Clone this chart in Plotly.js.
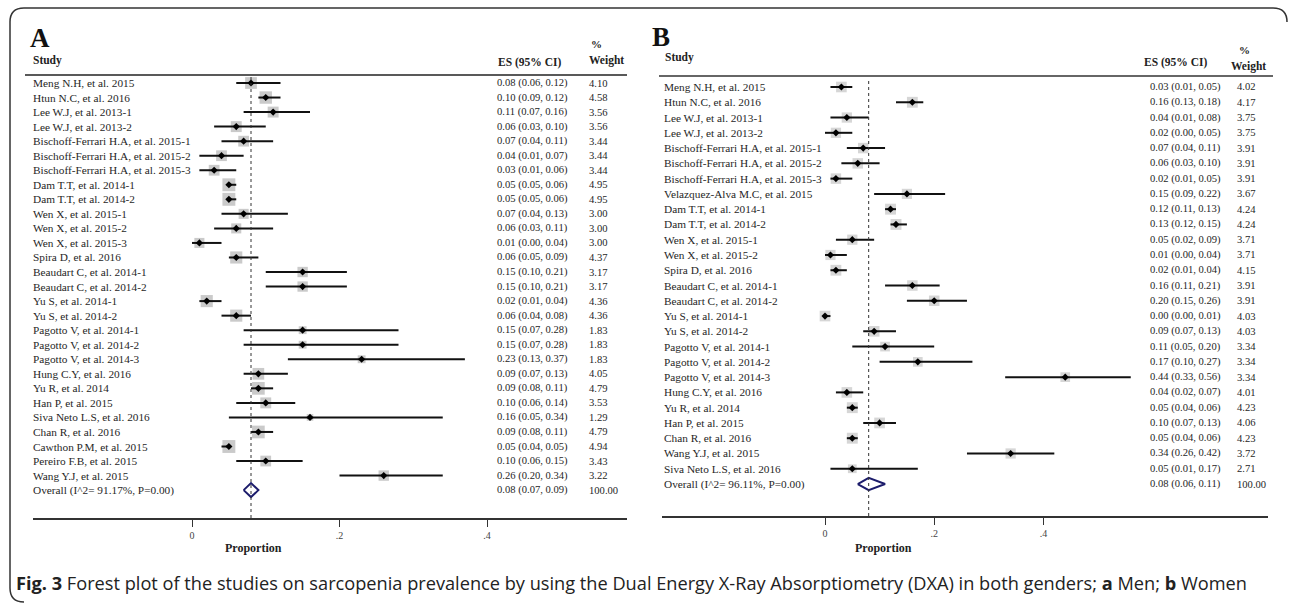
<!DOCTYPE html>
<html>
<head>
<meta charset="utf-8">
<script src="https://cdn.plot.ly/plotly-3.0.1.min.js"></script>
<style>html,body{margin:0;padding:0;background:#fff;}#chart{width:1292px;height:605px;}</style>
</head>
<body>
<div id="chart"></div>
<script>
// ---------- Panel A (Men) ----------
const studiesA = [
  "Meng N.H, et al. 2015", "Htun N.C, et al. 2016", "Lee W.J, et al. 2013-1", "Lee W.J, et al. 2013-2",
  "Bischoff-Ferrari H.A, et al. 2015-1", "Bischoff-Ferrari H.A, et al. 2015-2", "Bischoff-Ferrari H.A, et al. 2015-3",
  "Dam T.T, et al. 2014-1", "Dam T.T, et al. 2014-2", "Wen X, et al. 2015-1", "Wen X, et al. 2015-2",
  "Wen X, et al. 2015-3", "Spira D, et al. 2016", "Beaudart C, et al. 2014-1", "Beaudart C, et al. 2014-2",
  "Yu S, et al. 2014-1", "Yu S, et al. 2014-2", "Pagotto V, et al. 2014-1", "Pagotto V, et al. 2014-2",
  "Pagotto V, et al. 2014-3", "Hung C.Y, et al. 2016", "Yu R, et al. 2014", "Han P, et al. 2015",
  "Siva Neto L.S, et al. 2016", "Chan R, et al. 2016", "Cawthon P.M, et al. 2015", "Pereiro F.B, et al. 2015",
  "Wang Y.J, et al. 2015"
];
const esA = [0.08,0.10,0.11,0.06,0.07,0.04,0.03,0.05,0.05,0.07,0.06,0.01,0.06,0.15,0.15,0.02,0.06,0.15,0.15,0.23,0.09,0.09,0.10,0.16,0.09,0.05,0.10,0.26];
const loA = [0.06,0.09,0.07,0.03,0.04,0.01,0.01,0.05,0.05,0.04,0.03,0.00,0.05,0.10,0.10,0.01,0.04,0.07,0.07,0.13,0.07,0.08,0.06,0.05,0.08,0.04,0.06,0.20];
const hiA = [0.12,0.12,0.16,0.10,0.11,0.07,0.06,0.06,0.06,0.13,0.11,0.04,0.09,0.21,0.21,0.04,0.08,0.28,0.28,0.37,0.13,0.11,0.14,0.34,0.11,0.05,0.15,0.34];
const wA  = [4.10,4.58,3.56,3.56,3.44,3.44,3.44,4.95,4.95,3.00,3.00,3.00,4.37,3.17,3.17,4.36,4.36,1.83,1.83,1.83,4.05,4.79,3.53,1.29,4.79,4.94,3.43,3.22];
const overallLabelA = "Overall (I^2= 91.17%, P=0.00)";
const overallA = [0.08, 0.07, 0.09]; // es, lo, hi
const overallWA = 100.00;

// ---------- Panel B (Women) ----------
const studiesB = [
  "Meng N.H, et al. 2015", "Htun N.C, et al. 2016", "Lee W.J, et al. 2013-1", "Lee W.J, et al. 2013-2",
  "Bischoff-Ferrari H.A, et al. 2015-1", "Bischoff-Ferrari H.A, et al. 2015-2", "Bischoff-Ferrari H.A, et al. 2015-3",
  "Velazquez-Alva M.C, et al. 2015", "Dam T.T, et al. 2014-1", "Dam T.T, et al. 2014-2", "Wen X, et al. 2015-1",
  "Wen X, et al. 2015-2", "Spira D, et al. 2016", "Beaudart C, et al. 2014-1", "Beaudart C, et al. 2014-2",
  "Yu S, et al. 2014-1", "Yu S, et al. 2014-2", "Pagotto V, et al. 2014-1", "Pagotto V, et al. 2014-2",
  "Pagotto V, et al. 2014-3", "Hung C.Y, et al. 2016", "Yu R, et al. 2014", "Han P, et al. 2015",
  "Chan R, et al. 2016", "Wang Y.J, et al. 2015", "Siva Neto L.S, et al. 2016"
];
const esB = [0.03,0.16,0.04,0.02,0.07,0.06,0.02,0.15,0.12,0.13,0.05,0.01,0.02,0.16,0.20,0.00,0.09,0.11,0.17,0.44,0.04,0.05,0.10,0.05,0.34,0.05];
const loB = [0.01,0.13,0.01,0.00,0.04,0.03,0.01,0.09,0.11,0.12,0.02,0.00,0.01,0.11,0.15,0.00,0.07,0.05,0.10,0.33,0.02,0.04,0.07,0.04,0.26,0.01];
const hiB = [0.05,0.18,0.08,0.05,0.11,0.10,0.05,0.22,0.13,0.15,0.09,0.04,0.04,0.21,0.26,0.01,0.13,0.20,0.27,0.56,0.07,0.06,0.13,0.06,0.42,0.17];
const wB  = [4.02,4.17,3.75,3.75,3.91,3.91,3.91,3.67,4.24,4.24,3.71,3.71,4.15,3.91,3.91,4.03,4.03,3.34,3.34,3.34,4.01,4.23,4.06,4.23,3.72,2.71];
const overallLabelB = "Overall (I^2= 96.11%, P=0.00)";
const overallB = [0.08, 0.06, 0.11];
const overallWB = 100.00;

const tickVals = [0, 0.2, 0.4];
const tickText = ["0", ".2", ".4"];

// ---------- helpers ----------
const W = 1292, H = 605;
const PX = p => p / W;
const PY = p => 1 - p / H;
const serif = "Liberation Serif, Times New Roman, serif";
const txtCol = "#262626";

function rowsY(n) { const r = []; for (let i = 0; i < n; i++) r.push(-i); return r; }
function ci(e, l, h) { return e.toFixed(2) + " (" + l.toFixed(2) + ", " + h.toFixed(2) + ")"; }

function panel(studies, es, lo, hi, w, oLabel, o, oW, xa, ya, sqScale, sqColor, diaHalf, cols) {
  const y = rowsY(studies.length);
  const traces = [];
  traces.push({
    type: "scatter", mode: "markers", x: es, y: y, xaxis: xa, yaxis: ya, hoverinfo: "skip",
    marker: { symbol: "square", color: sqColor, size: w.map(v => sqScale * Math.sqrt(v)), line: { width: 0 } }
  });
  traces.push({
    type: "scatter", mode: "markers", x: es, y: y, xaxis: xa, yaxis: ya, hoverinfo: "skip",
    marker: { symbol: "diamond", color: "#000", size: 5.5 },
    error_x: { type: "data", symmetric: false, array: es.map((v, i) => hi[i] - v),
               arrayminus: es.map((v, i) => v - lo[i]), width: 0, thickness: 2, color: "#111" }
  });
  const oy = -studies.length;
  traces.push({
    type: "scatter", mode: "lines", xaxis: xa, yaxis: ya, hoverinfo: "skip",
    x: [o[1], o[0], o[2], o[0], o[1]], y: [oy, oy + diaHalf, oy, oy - diaHalf, oy],
    line: { color: "#1c1c6b", width: 2 }
  });
  const ann = [];
  const yref = ya;
  const allNames = studies.concat([oLabel]);
  const allCI = es.map((v, i) => ci(v, lo[i], hi[i])).concat([ci(o[0], o[1], o[2])]);
  const allW = w.map(v => v.toFixed(2)).concat([oW.toFixed(2)]);
  allNames.forEach((s, i) => {
    ann.push({ text: s, xref: "paper", yref: yref, x: PX(cols[0]), y: -i, xanchor: "left", yanchor: "middle",
               showarrow: false, font: { family: serif, size: 11.3, color: txtCol } });
    ann.push({ text: allCI[i], xref: "paper", yref: yref, x: PX(cols[1]), y: -i, xanchor: "left", yanchor: "middle",
               showarrow: false, font: { family: serif, size: 10.6, color: txtCol } });
    ann.push({ text: allW[i], xref: "paper", yref: yref, x: PX(cols[2]), y: -i, xanchor: "left", yanchor: "middle",
               showarrow: false, font: { family: serif, size: 10.6, color: txtCol } });
  });
  return { traces, ann };
}

const A = panel(studiesA, esA, loA, hiA, wA, overallLabelA, overallA, overallWA, "x", "y", 5.8, "#b3b3b3", 0.48, [31, 495, 587]);
const B = panel(studiesB, esB, loB, hiB, wB, overallLabelB, overallB, overallWB, "x2", "y2", 5.3, "#c4c4c4", 0.4, [662, 1148, 1235]);

// axis geometry
const axCommon = {
  tickvals: tickVals, ticktext: tickText, ticks: "outside", ticklen: 7, tickwidth: 1, tickcolor: "#333",
  showline: true, linecolor: "#333", linewidth: 1.5, showgrid: false, zeroline: false, fixedrange: true,
  tickfont: { family: serif, size: 10, color: "#444" }
};
const yCommon = { visible: false, showgrid: false, zeroline: false, fixedrange: true };

// Panel A: x=0 at px 192, 737.5 px/unit; rows at 83 + 14.54*i
const aX0 = 192, aK = 737.5, aR0 = 83, aDy = 14.54;
const aL = 33, aR = 627, aTop = 75, aBot = 518;
// Panel B: x=0 at px 825, 546 px/unit; rows at 87 + 15.27*i
const bX0 = 825, bK = 546, bR0 = 87, bDy = 15.27;
const bL = 662, bR = 1268, bTop = 76, bBot = 516;

const layout = {
  width: W, height: H, margin: { l: 0, r: 0, t: 0, b: 0 }, showlegend: false,
  paper_bgcolor: "#fff", plot_bgcolor: "rgba(0,0,0,0)",
  xaxis: Object.assign({}, axCommon, { anchor: "y", domain: [PX(aL), PX(aR)], range: [(aL - aX0) / aK, (aR - aX0) / aK] }),
  yaxis: Object.assign({}, yCommon, { anchor: "x", domain: [PY(aBot), PY(aTop)], range: [-(aBot - aR0) / aDy, -(aTop - aR0) / aDy] }),
  xaxis2: Object.assign({}, axCommon, { anchor: "y2", domain: [PX(bL), PX(bR)], range: [(bL - bX0) / bK, (bR - bX0) / bK] }),
  yaxis2: Object.assign({}, yCommon, { anchor: "x2", domain: [PY(bBot), PY(bTop)], range: [-(bBot - bR0) / bDy, -(bTop - bR0) / bDy] }),
  shapes: [
    // header rules
    { type: "line", xref: "paper", yref: "paper", x0: PX(25), x1: PX(627), y0: PY(75), y1: PY(75), line: { color: "#222", width: 1.5 } },
    { type: "line", xref: "paper", yref: "paper", x0: PX(659), x1: PX(1273), y0: PY(76), y1: PY(76), line: { color: "#666", width: 2 } },
    // reference (overall) dashed lines
    { type: "line", xref: "x", yref: "paper", x0: overallA[0], x1: overallA[0], y0: PY(aBot), y1: PY(77), line: { color: "#333", width: 1, dash: "3px,3px" } },
    { type: "line", xref: "x2", yref: "paper", x0: overallB[0], x1: overallB[0], y0: PY(bBot), y1: PY(78), line: { color: "#333", width: 1, dash: "3px,3px" } },
    // rounded frame
    { type: "path", xref: "paper", yref: "paper", line: { color: "#333", width: 1.5 },
      path: "M " + PX(10) + "," + PY(22) + " Q " + PX(10) + "," + PY(8) + " " + PX(24) + "," + PY(8) +
            " L " + PX(1273) + "," + PY(8) + " Q " + PX(1287) + "," + PY(8) + " " + PX(1287) + "," + PY(22) +
            " M " + PX(10) + "," + PY(22) + " L " + PX(10) + "," + PY(588) + " Q " + PX(10) + "," + PY(602) + " " + PX(24) + "," + PY(602) }
  ],
  annotations: [
    { text: "<b>A</b>", xref: "paper", yref: "paper", x: PX(28), y: PY(38), xanchor: "left", yanchor: "middle", showarrow: false, font: { family: serif, size: 27, color: "#111" } },
    { text: "<b>B</b>", xref: "paper", yref: "paper", x: PX(650), y: PY(37), xanchor: "left", yanchor: "middle", showarrow: false, font: { family: serif, size: 27, color: "#111" } },
    { text: "<b>Study</b>", xref: "paper", yref: "paper", x: PX(31), y: PY(61), xanchor: "left", yanchor: "middle", showarrow: false, font: { family: serif, size: 11.5, color: "#222" } },
    { text: "<b>ES (95% CI)</b>", xref: "paper", yref: "paper", x: PX(496), y: PY(62), xanchor: "left", yanchor: "middle", showarrow: false, font: { family: serif, size: 11.5, color: "#222" } },
    { text: "<b>%</b>", xref: "paper", yref: "paper", x: PX(589), y: PY(44), xanchor: "left", yanchor: "middle", showarrow: false, font: { family: serif, size: 11, color: "#222" } },
    { text: "<b>Weight</b>", xref: "paper", yref: "paper", x: PX(587), y: PY(60), xanchor: "left", yanchor: "middle", showarrow: false, font: { family: serif, size: 11.5, color: "#222" } },
    { text: "<b>Study</b>", xref: "paper", yref: "paper", x: PX(663), y: PY(58), xanchor: "left", yanchor: "middle", showarrow: false, font: { family: serif, size: 11.5, color: "#222" } },
    { text: "<b>ES (95% CI)</b>", xref: "paper", yref: "paper", x: PX(1142), y: PY(63), xanchor: "left", yanchor: "middle", showarrow: false, font: { family: serif, size: 11.5, color: "#222" } },
    { text: "<b>%</b>", xref: "paper", yref: "paper", x: PX(1237), y: PY(50), xanchor: "left", yanchor: "middle", showarrow: false, font: { family: serif, size: 11, color: "#222" } },
    { text: "<b>Weight</b>", xref: "paper", yref: "paper", x: PX(1229), y: PY(66), xanchor: "left", yanchor: "middle", showarrow: false, font: { family: serif, size: 11.5, color: "#222" } },
    { text: "<b>Proportion</b>", xref: "paper", yref: "paper", x: PX(253), y: PY(548), xanchor: "center", yanchor: "middle", showarrow: false, font: { family: serif, size: 12, color: "#222" } },
    { text: "<b>Proportion</b>", xref: "paper", yref: "paper", x: PX(883), y: PY(548), xanchor: "center", yanchor: "middle", showarrow: false, font: { family: serif, size: 12, color: "#222" } },
    { text: "<b>Fig. 3</b> Forest plot of the studies on sarcopenia prevalence by using the Dual Energy X-Ray Absorptiometry (DXA) in both genders; <b>a</b> Men; <b>b</b> Women",
      xref: "paper", yref: "paper", x: PX(14), y: PY(583), xanchor: "left", yanchor: "middle", showarrow: false,
      font: { family: "Open Sans, Noto Sans, sans-serif", size: 18.2, color: "#222" } }
  ].concat(A.ann, B.ann)
};

Plotly.newPlot("chart", A.traces.concat(B.traces), layout, { staticPlot: true, displayModeBar: false });
</script>
</body>
</html>
